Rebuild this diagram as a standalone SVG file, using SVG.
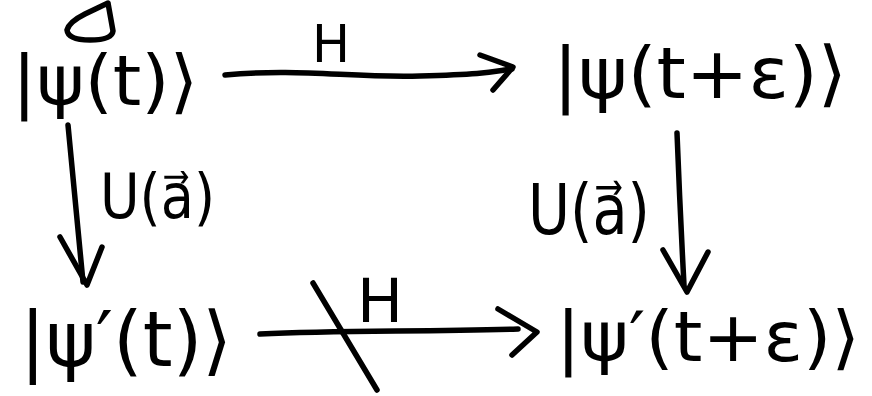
<svg xmlns="http://www.w3.org/2000/svg" width="872" height="396" viewBox="0 0 872 396">
<defs>
<style>
.t{font-family:"DejaVu Sans","Liberation Sans",sans-serif;fill:#000}
.s{fill:none;stroke:#000;stroke-width:5.5;stroke-linecap:round;stroke-linejoin:round}
</style>
</defs>
<rect width="872" height="396" fill="#fff"/>
<g id="mark"><path class="s" d="M108,3 L113,31 Q112,40 90,40 Q68,40 67,30 Q69,22 85,14 Z"/></g>
<g id="n_psi_t"><text class="t" x="12" y="105" font-size="70" textLength="186" lengthAdjust="spacingAndGlyphs">|ψ(t)⟩</text></g>
<g id="n_psi_te"><text class="t" x="553" y="98" font-size="72" textLength="294" lengthAdjust="spacingAndGlyphs">|ψ(t+ε)⟩</text></g>
<g id="n_psip_t"><text class="t" x="20" y="366" font-size="76" textLength="212" lengthAdjust="spacingAndGlyphs">|ψ′(t)⟩</text></g>
<g id="n_psip_te"><text class="t" x="556" y="361" font-size="70" textLength="304" lengthAdjust="spacingAndGlyphs">|ψ′(t+ε)⟩</text></g>
<g id="connectors">
<path class="s" d="M225,75 C300,68 350,78 420,76 S490,72 512,69"/>
<path class="s" d="M480,55 L513,67 L493,90"/>
<text class="t" x="312" y="62" font-size="52" textLength="38" lengthAdjust="spacingAndGlyphs">H</text>
<path class="s" d="M68,125 Q75,200 83,282"/>
<path class="s" d="M60,237 L87,285 L102,247"/>
<text class="t" x="100" y="218" font-size="62" textLength="115" lengthAdjust="spacingAndGlyphs">U(a⃗)</text>
<path class="s" d="M677,133 Q680,210 684,285"/>
<path class="s" d="M663,250 L687,292 L708,252"/>
<text class="t" x="528" y="234" font-size="70" textLength="122" lengthAdjust="spacingAndGlyphs">U(a⃗)</text>
<path class="s" d="M260,334 C340,330 420,332 518,329"/>
<path class="s" d="M498,309 L537,332 L512,355"/>
<path class="s" d="M313,283 L377,390"/>
<text class="t" x="357" y="322" font-size="60" textLength="46" lengthAdjust="spacingAndGlyphs">H</text>
</g>
</svg>
